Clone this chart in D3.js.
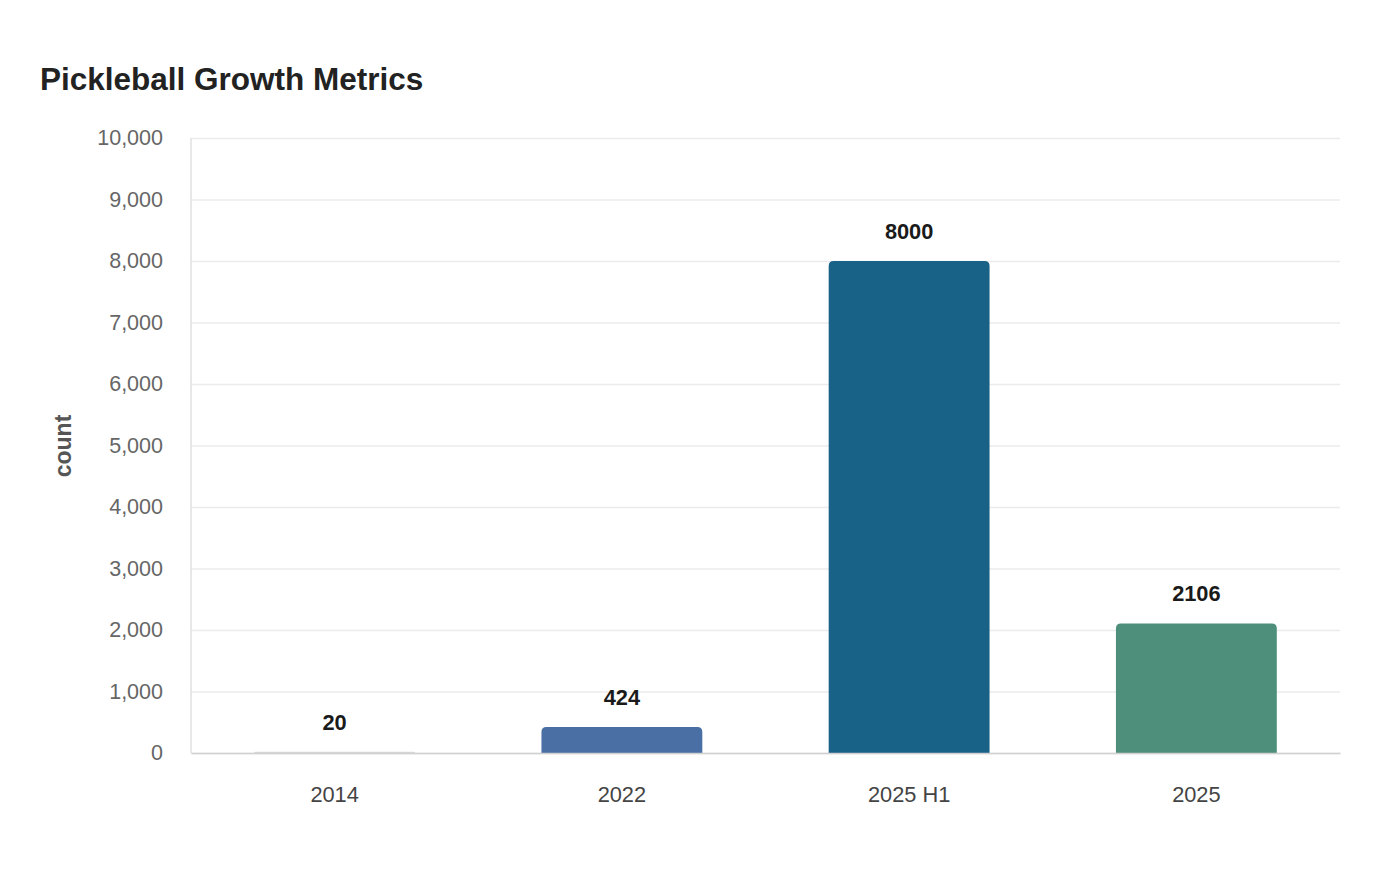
<!DOCTYPE html>
<html>
<head>
<meta charset="utf-8">
<script src="https://cdn.jsdelivr.net/npm/d3@7"></script>
<style>
  body { margin: 0; background: #fff; }
  svg { font-family: "Liberation Sans", Arial, sans-serif; }
</style>
</head>
<body>
<svg id="chart" width="1400" height="880"></svg>
<script>
const categories = ['2014', '2022', '2025 H1', '2025'];
const counts = [20, 424, 8000, 2106];
const barColors = ['#d9d9d9', '#4a6fa5', '#186187', '#4e8f7c'];
const yTicks = [0, 1000, 2000, 3000, 4000, 5000, 6000, 7000, 8000, 9000, 10000];

const svg = d3.select('#chart');
const margin = { top: 138, right: 60, bottom: 127, left: 191 };
const width = 1400 - margin.left - margin.right;
const height = 880 - margin.top - margin.bottom;
const fontFam = '"Liberation Sans", Arial, sans-serif';

svg.append('text')
    .attr('x', 40).attr('y', 90)
    .attr('font-size', 31.5).attr('font-weight', 'bold').attr('fill', '#222')
    .text('Pickleball Growth Metrics');

const g = svg.append('g').attr('transform', `translate(${margin.left},${margin.top})`);

const x = d3.scaleBand().domain(categories).range([0, width]).paddingInner(0.44).paddingOuter(0.22);
const y = d3.scaleLinear().domain([0, 10000]).range([height, 0]);

// gridlines + y axis
const yAxis = g.append('g')
    .call(d3.axisLeft(y).tickValues(yTicks).tickSize(16).tickPadding(12).tickFormat(d3.format(',')));
yAxis.select('.domain').remove();
yAxis.selectAll('.tick line').attr('x2', width).attr('stroke', '#ebebeb').attr('stroke-width', 1.5);
yAxis.selectAll('.tick text').attr('font-size', 21.5).attr('fill', '#666').attr('font-family', fontFam);

g.append('line').attr('x1', 0).attr('x2', 0).attr('y1', 0).attr('y2', height)
    .attr('stroke', '#e0e0e0').attr('stroke-width', 1.5);

// bars with rounded top corners
const r = 5;
function barPath(d, i) {
    const x0 = x(categories[i]), w = x.bandwidth();
    const y0 = y(d), h = height - y0;
    const rr = Math.min(r, h);
    return `M${x0},${height}V${y0 + rr}Q${x0},${y0} ${x0 + rr},${y0}H${x0 + w - rr}Q${x0 + w},${y0} ${x0 + w},${y0 + rr}V${height}Z`;
}
g.selectAll('.bar').data(counts).enter().append('path')
    .attr('class', 'bar')
    .attr('d', barPath)
    .attr('fill', (d, i) => barColors[i]);

g.selectAll('.label').data(counts).enter().append('text')
    .attr('class', 'label')
    .attr('x', (d, i) => x(categories[i]) + x.bandwidth() / 2)
    .attr('y', d => y(d) - 22)
    .attr('text-anchor', 'middle')
    .attr('font-size', 21.8).attr('font-weight', 'bold').attr('fill', '#1a1a1a')
    .text(d => d);

// x axis
const xAxis = g.append('g').attr('transform', `translate(0,${height})`)
    .call(d3.axisBottom(x).tickSize(0).tickPadding(34));
xAxis.select('.domain').attr('stroke', '#d0d0d0').attr('stroke-width', 1.5);
xAxis.selectAll('.tick text').attr('font-size', 21.8).attr('fill', '#444').attr('font-family', fontFam);

svg.append('text')
    .attr('transform', 'translate(71,446) rotate(-90)')
    .attr('text-anchor', 'middle')
    .attr('font-size', 23).attr('font-weight', 'bold').attr('fill', '#555')
    .text('count');
</script>
</body>
</html>
